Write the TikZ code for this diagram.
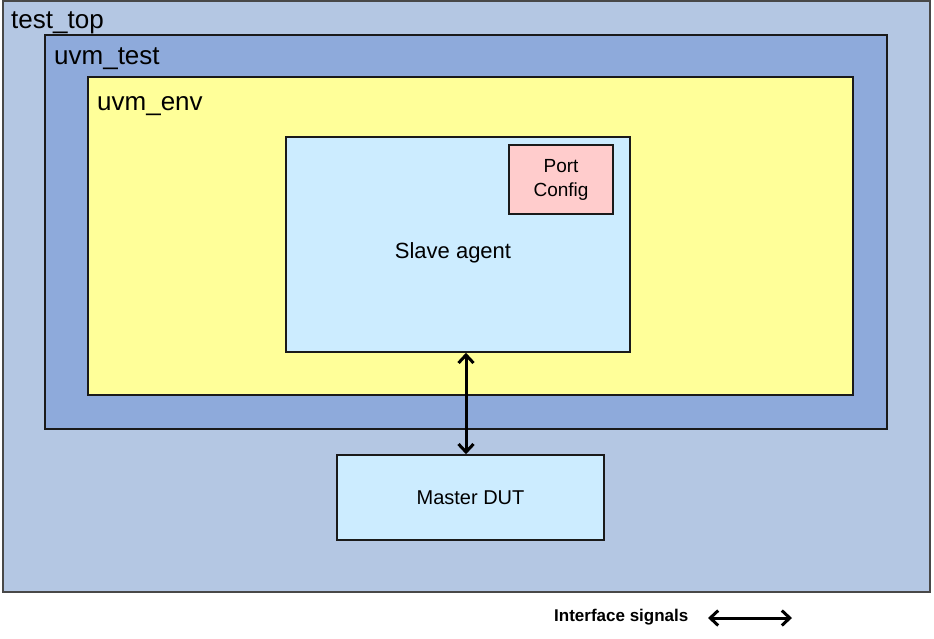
\documentclass[tikz,border=0pt]{standalone}
\usepackage{fontspec}
\setmainfont{Liberation Sans}
\usetikzlibrary{arrows.meta}
\definecolor{topfill}{HTML}{B4C7E3}
\definecolor{testfill}{HTML}{8EAADB}
\definecolor{envfill}{HTML}{FFFF99}
\definecolor{agentfill}{HTML}{CCECFF}
\definecolor{cfgfill}{HTML}{FFCCCC}
\definecolor{edge}{HTML}{1A1A1A}
\tikzset{
  box/.style={draw=edge, line width=1.6pt},
  lbl/.style={anchor=base west, inner sep=0pt, font=\fontsize{26}{28}\selectfont},
  sig/.style={line width=3pt, {Straight Barb[length=8pt,width=15pt]}-{Straight Barb[length=8pt,width=15pt]}},
}
\begin{document}
\begin{tikzpicture}[x=1pt,y=-1pt]
\useasboundingbox (0,0) rectangle (934,638);
\fill[white] (0,0) rectangle (934,638);
\draw[box, fill=topfill, draw=edge!80] (3,1) rectangle (930,592);
\node[lbl] (ltop) at (11,28) {test\_top};
\draw[box, fill=testfill] (45,35) rectangle (887,429);
\node[lbl] (ltest) at (54,64) {uvm\_test};
\draw[box, fill=envfill] (88,77) rectangle (853,395);
\node[lbl] (lenv) at (97,110) {uvm\_env};
\node[box, fill=agentfill, minimum width=344pt, minimum height=215pt, inner sep=0pt] (agent) at (458,244.5) {};
\node[inner sep=0pt, font=\fontsize{22}{24}\selectfont] (agenttxt) at ([xshift=-5pt,yshift=-8pt]agent.center) {Slave agent};
\node[box, fill=cfgfill, minimum width=104pt, minimum height=69pt, inner sep=0pt, align=center, font=\fontsize{19}{24}\selectfont] (cfg) at (561,179.5) {Port\\Config};
\node[box, fill=agentfill, minimum width=267pt, minimum height=85pt, inner sep=0pt, font=\fontsize{20}{23}\selectfont] (dut) at (470.5,497.5) {Master DUT};
\draw[sig] (agent.south -| 466,0) -- (dut.north -| 466,0);
\node[anchor=west, inner sep=0pt, font=\bfseries\fontsize{17}{19}\selectfont] (leg) at (554,617) {Interface signals};
\coordinate (la) at (708,618);
\coordinate (lb) at (792,618);
\draw[sig] (la) -- (lb);
\end{tikzpicture}
\end{document}
